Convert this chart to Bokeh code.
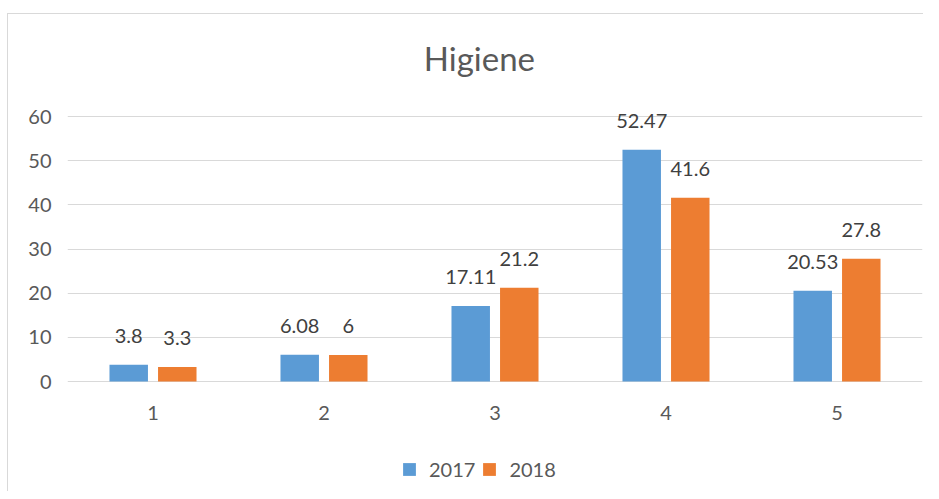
from bokeh.plotting import figure
from bokeh.models import ColumnDataSource, LabelSet, Label, Legend, LegendItem, FixedTicker, Range1d
from bokeh.core.properties import value
from bokeh.embed import file_html
from bokeh.resources import INLINE

categories = [1, 2, 3, 4, 5]
v2017 = [3.8, 6.08, 17.11, 52.47, 20.53]
v2018 = [3.3, 6, 21.2, 41.6, 27.8]
y_ticks = [0, 10, 20, 30, 40, 50, 60]
series_names = ["2017", "2018"]
title_text = "Higiene"

BLUE = "#5B9BD5"
ORANGE = "#ED7D31"
TXT = "#595959"
GRID = "#D9D9D9"
FONT = "Lato"

off = 0.142
bw = 0.225

W, H = 923, 491
TOP, BOTTOM, LEFT, RIGHT = 16, 8, 67, 1
zero_px, top_px = 381, 116  # canvas rows of value 0 and of the top tick
frame_bottom = H - BOTTOM
ymax_tick = y_ticks[-1]
px_per_unit = (zero_px - top_px) / ymax_tick
ymin = -(frame_bottom - zero_px) / px_per_unit
ymax = ymax_tick + (top_px - TOP) / px_per_unit

p = figure(width=W, height=H, output_backend="svg", toolbar_location=None,
           x_range=Range1d(0.5, 5.5), y_range=Range1d(ymin, ymax),
           min_border_left=LEFT, min_border_right=RIGHT, min_border_top=TOP,
           min_border_bottom=BOTTOM)
p.title.visible = False
p.outline_line_color = None
p.background_fill_color = "white"
p.border_fill_color = None
p.styles = {
    "background-color": "white",
    "background-image": ("linear-gradient(#D9D9D9,#D9D9D9), "
                         "linear-gradient(#D9D9D9,#D9D9D9)"),
    "background-position": "7px 13px, 7px 13px",
    "background-size": "1px calc(100% - 13px), calc(100% - 7px) 1px",
    "background-repeat": "no-repeat, no-repeat",
}

s1 = ColumnDataSource(dict(x=[c - off for c in categories], top=v2017,
                           lab=["{:g}".format(v) for v in v2017]))
s2 = ColumnDataSource(dict(x=[c + off for c in categories], top=v2018,
                           lab=["{:g}".format(v) for v in v2018]))

r1 = p.vbar(x="x", top="top", width=bw, source=s1, fill_color=BLUE, line_color=None)
r2 = p.vbar(x="x", top="top", width=bw, source=s2, fill_color=ORANGE, line_color=None)

for s in (s1, s2):
    p.add_layout(LabelSet(x="x", y="top", text="lab", source=s, text_align="center",
                          text_baseline="alphabetic", y_offset=22, text_font=value(FONT),
                          text_font_size=value("20px"), text_color=value("#404040")))

# category labels under the zero line
sx = ColumnDataSource(dict(x=categories, y=[0] * len(categories),
                           lab=[str(c) for c in categories]))
p.add_layout(LabelSet(x="x", y="y", text="lab", source=sx, text_align="center",
                      text_baseline="middle", y_offset=-31.5, text_font=value(FONT),
                      text_font_size=value("20px"), text_color=value(TXT)))

# chart title
p.add_layout(Label(x=2.909, y=ymax_tick, y_offset=59, text=title_text,
                   text_align="center", text_baseline="middle", text_font=FONT,
                   text_font_size="33px", text_color=TXT))

p.xaxis.visible = False
p.yaxis.ticker = FixedTicker(ticks=y_ticks)
p.yaxis.major_tick_line_color = None
p.yaxis.minor_tick_line_color = None
p.yaxis.major_label_text_font = FONT
p.yaxis.major_label_text_font_size = "20px"
p.yaxis.major_label_text_color = TXT
p.yaxis.axis_line_color = None
p.yaxis.major_label_standoff = 10
p.xgrid.grid_line_color = None
p.ygrid.ticker = FixedTicker(ticks=y_ticks)
p.ygrid.grid_line_color = GRID

legend = Legend(items=[LegendItem(label=series_names[0], renderers=[r1]),
                       LegendItem(label=series_names[1], renderers=[r2])],
                orientation="horizontal", location=(334, 2),
                glyph_width=16, glyph_height=16, label_standoff=12, spacing=6,
                padding=2, margin=0, border_line_color=None, background_fill_alpha=0,
                label_text_font=FONT, label_text_font_size="20px", label_text_color=TXT)
p.add_layout(legend, "center")

open("out.html", "w").write(file_html(p, INLINE))
